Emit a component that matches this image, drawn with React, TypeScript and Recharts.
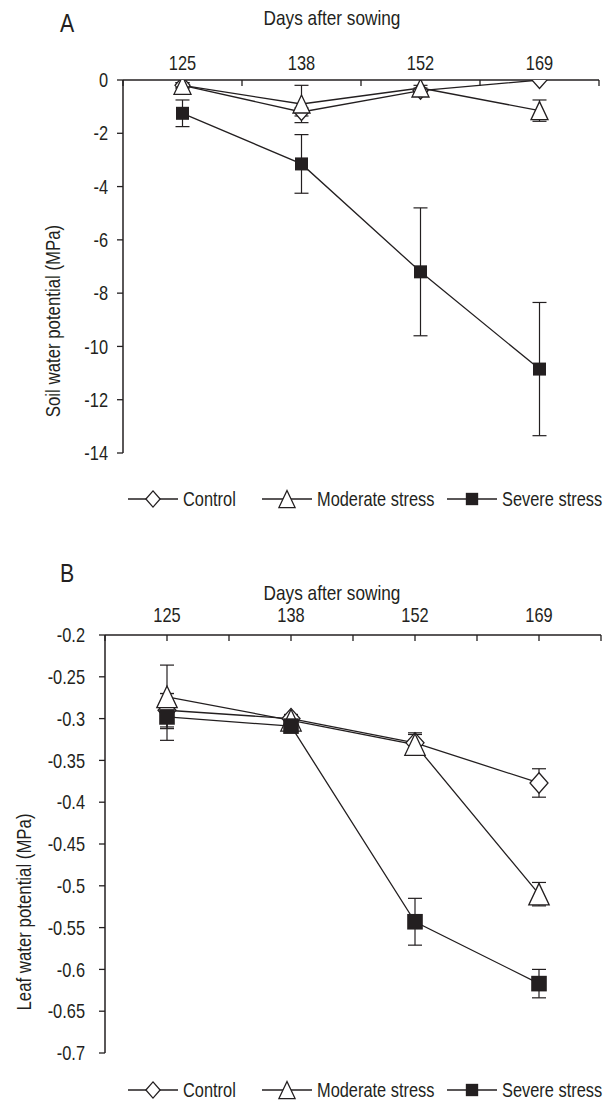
import React from 'react';
import { LineChart, Line, XAxis, YAxis, ErrorBar } from 'recharts';

// Arial Narrow look: Liberation Sans squeezed horizontally
const FONT = "'Liberation Sans', Arial, sans-serif";
const SX = 0.82;
const INK = '#231f20';

const days = ['125', '138', '152', '169'];
const xTicks = [0, 0.5, 1, 1.5, 2, 2.5, 3, 3.5, 4];

// A - soil water potential (MPa)
const soilControl = [-0.2, -1.2, -0.4, 0.0];
const soilControlErr = [0.1, 0.15, 0.1, 0];
const soilModerate = [-0.2, -0.9, -0.3, -1.15];
const soilModerateErr = [0.1, 0.7, 0.1, 0.4];
const soilSevere = [-1.25, -3.15, -7.2, -10.85];
const soilSevereErr = [0.5, 1.1, 2.4, 2.5];
const soilTicks = [0, -2, -4, -6, -8, -10, -12, -14];

// B - leaf water potential (MPa)
const leafControl = [-0.29, -0.3, -0.329, -0.377];
const leafControlErr = [0.02, 0.005, 0.012, 0.017];
const leafModerate = [-0.274, -0.302, -0.331, -0.51];
const leafModerateErr = [0.038, 0.005, 0.012, 0.014];
const leafSevere = [-0.298, -0.309, -0.543, -0.617];
const leafSevereErr = [0.028, 0.005, 0.028, 0.017];
const leafTicks = [-0.2, -0.25, -0.3, -0.35, -0.4, -0.45, -0.5, -0.55, -0.6, -0.65, -0.7];

const buildRows = (
  c: number[], ce: number[], m: number[], me: number[], s: number[], se: number[]
) =>
  days.map((d, i) => ({
    x: i + 0.5,
    day: d,
    control: c[i],
    controlErr: ce[i],
    moderate: m[i],
    moderateErr: me[i],
    severe: s[i],
    severeErr: se[i],
  }));

const soilRows = buildRows(soilControl, soilControlErr, soilModerate, soilModerateErr, soilSevere, soilSevereErr);
const leafRows = buildRows(leafControl, leafControlErr, leafModerate, leafModerateErr, leafSevere, leafSevereErr);

function NText(props: {
  x: number; y: number; anchor?: 'start' | 'middle' | 'end'; size?: number;
  rotate?: number; dy?: string; children: React.ReactNode;
}) {
  const { x, y, anchor = 'start', size = 20, rotate = 0, dy, children } = props;
  return (
    <text transform={`translate(${x},${y}) rotate(${rotate}) scale(${SX},1)`} textAnchor={anchor}
      fontSize={size} fontFamily={FONT} fill={INK} dy={dy}>
      {children}
    </text>
  );
}

// marker shapes
const diamondShape = (cx: number, cy: number, k: number, key?: number) => {
  const w = 7.5 * k;
  const h = 8.5 * k;
  return (
    <path key={key} d={`M${cx},${cy - h}L${cx + w},${cy}L${cx},${cy + h}L${cx - w},${cy}Z`}
      fill="#fff" stroke={INK} strokeWidth={1.3} />
  );
};
const triangleShape = (cx: number, cy: number, k: number, key?: number) => {
  const w = 8.5 * k;
  const h = 9 * k;
  return (
    <path key={key} d={`M${cx},${cy - h}L${cx + w},${cy + h}L${cx - w},${cy + h}Z`}
      fill="#fff" stroke={INK} strokeWidth={1.3} />
  );
};
const squareShape = (cx: number, cy: number, k: number, key?: number) => {
  const h = 6.5 * k;
  return <rect key={key} x={cx - h} y={cy - h} width={2 * h} height={2 * h} fill={INK} />;
};

type Shape = (cx: number, cy: number, k: number, key?: number) => React.ReactElement;

const dotOf = (shape: Shape, k: number) => (p: any) => {
  if (p.cx == null || p.cy == null) return <g key={p.index} />;
  return shape(p.cx, p.cy, k, p.index);
};

function TopTick(props: any) {
  const { x, y, payload, midTicks, lift } = props;
  const v = payload.value as number;
  const isMid = Math.abs((v % 1) - 0.5) < 1e-6;
  return (
    <g>
      {(!isMid || midTicks) && (
        <line x1={x} y1={y} x2={x} y2={y + 6} stroke={INK} strokeWidth={1.3} />
      )}
      {isMid && (
        <NText x={x} y={y - lift} anchor="middle">{days[Math.floor(v)]}</NText>
      )}
    </g>
  );
}

function LeftTick(props: any) {
  const { x, y, payload } = props;
  return <NText x={x} y={y} anchor="end" dy="0.36em">{payload.value}</NText>;
}

interface PanelProps {
  rows: ReturnType<typeof buildRows>;
  yDomain: [number, number];
  yTicks: number[];
  height: number;
  margin: { top: number; right: number; bottom: number; left: number };
  yWidth: number;
  tickMargin: number;
  midTicks: boolean;
  lift: number;
  k: number;
}

function Panel({ rows, yDomain, yTicks, height, margin, yWidth, tickMargin, midTicks, lift, k }: PanelProps) {
  const axisLine = { stroke: INK, strokeWidth: 1.5 };
  return (
    <LineChart width={611} height={height} data={rows} margin={margin}>
      <XAxis
        dataKey="x"
        type="number"
        orientation="top"
        domain={[0, 4]}
        ticks={xTicks}
        interval={0}
        height={30}
        tickSize={0}
        tickMargin={0}
        tickLine={false}
        axisLine={axisLine}
        tick={(p: any) => <TopTick {...p} midTicks={midTicks} lift={lift} />}
      />
      <XAxis xAxisId="frame" dataKey="x" type="number" orientation="bottom" domain={[0, 4]}
        height={0} tick={false} tickLine={false} axisLine={axisLine} />
      <YAxis
        type="number"
        domain={yDomain}
        ticks={yTicks}
        interval={0}
        width={yWidth}
        tickSize={6}
        tickMargin={tickMargin}
        allowDataOverflow
        axisLine={axisLine}
        tickLine={{ stroke: INK, strokeWidth: 1.3 }}
        tick={(p: any) => <LeftTick {...p} />}
      />
      <YAxis yAxisId="frame" orientation="right" type="number" domain={yDomain} width={0}
        tick={false} tickLine={false} axisLine={axisLine} />
      <Line dataKey="control" stroke={INK} strokeWidth={1.3} isAnimationActive={false}
        dot={dotOf(diamondShape, k)} activeDot={false}>
        <ErrorBar dataKey="controlErr" width={7} stroke={INK} strokeWidth={1.2} direction="y" />
      </Line>
      <Line dataKey="moderate" stroke={INK} strokeWidth={1.3} isAnimationActive={false}
        dot={dotOf(triangleShape, k)} activeDot={false}>
        <ErrorBar dataKey="moderateErr" width={7} stroke={INK} strokeWidth={1.2} direction="y" />
      </Line>
      <Line dataKey="severe" stroke={INK} strokeWidth={1.3} isAnimationActive={false}
        dot={dotOf(squareShape, k)} activeDot={false}>
        <ErrorBar dataKey="severeErr" width={7} stroke={INK} strokeWidth={1.2} direction="y" />
      </Line>
    </LineChart>
  );
}

const legendItems: { name: string; shape: Shape; left: number }[] = [
  { name: 'Control', shape: diamondShape, left: 128 },
  { name: 'Moderate stress', shape: triangleShape, left: 262 },
  { name: 'Severe stress', shape: squareShape, left: 447 },
];

function Legend({ cy }: { cy: number }) {
  return (
    <g>
      {legendItems.map((it) => (
        <g key={it.name}>
          <line x1={it.left} y1={cy} x2={it.left + 50} y2={cy} stroke={INK} strokeWidth={1.3} />
          {it.shape(it.left + 25, cy, 0.95)}
          <NText x={it.left + 55} y={cy} dy="0.36em">{it.name}</NText>
        </g>
      ))}
    </g>
  );
}

export default function App() {
  return (
    <div style={{ position: 'absolute', left: 0, top: 0, width: 611, height: 1103, background: '#fff' }}>
      <div style={{ position: 'absolute', left: 0, top: 0 }}>
        <Panel rows={soilRows} yDomain={[-14, 0]} yTicks={soilTicks} height={470}
          margin={{ top: 50, right: 12, bottom: 17, left: 0 }} yWidth={123} tickMargin={9}
          midTicks={false} lift={10} k={1} />
      </div>
      <div style={{ position: 'absolute', left: 0, top: 560 }}>
        <Panel rows={leafRows} yDomain={[-0.7, -0.2]} yTicks={leafTicks} height={510}
          margin={{ top: 45, right: 10, bottom: 17, left: 0 }} yWidth={105} tickMargin={14}
          midTicks={true} lift={13} k={1.2} />
      </div>
      <svg width={611} height={1103} style={{ position: 'absolute', left: 0, top: 0, pointerEvents: 'none' }}>
        <NText x={60} y={32} size={26}>A</NText>
        <NText x={60} y={582} size={26}>B</NText>
        <NText x={332} y={25} size={21} anchor="middle">Days after sowing</NText>
        <NText x={332} y={600} size={21} anchor="middle">Days after sowing</NText>
        <NText x={53} y={321} size={20.5} anchor="middle" rotate={-90} dy="0.36em">
          Soil water potential (MPa)
        </NText>
        <NText x={24} y={912} size={20.5} anchor="middle" rotate={-90} dy="0.36em">
          Leaf water potential (MPa)
        </NText>
        <Legend cy={499} />
        <Legend cy={1090} />
      </svg>
    </div>
  );
}
